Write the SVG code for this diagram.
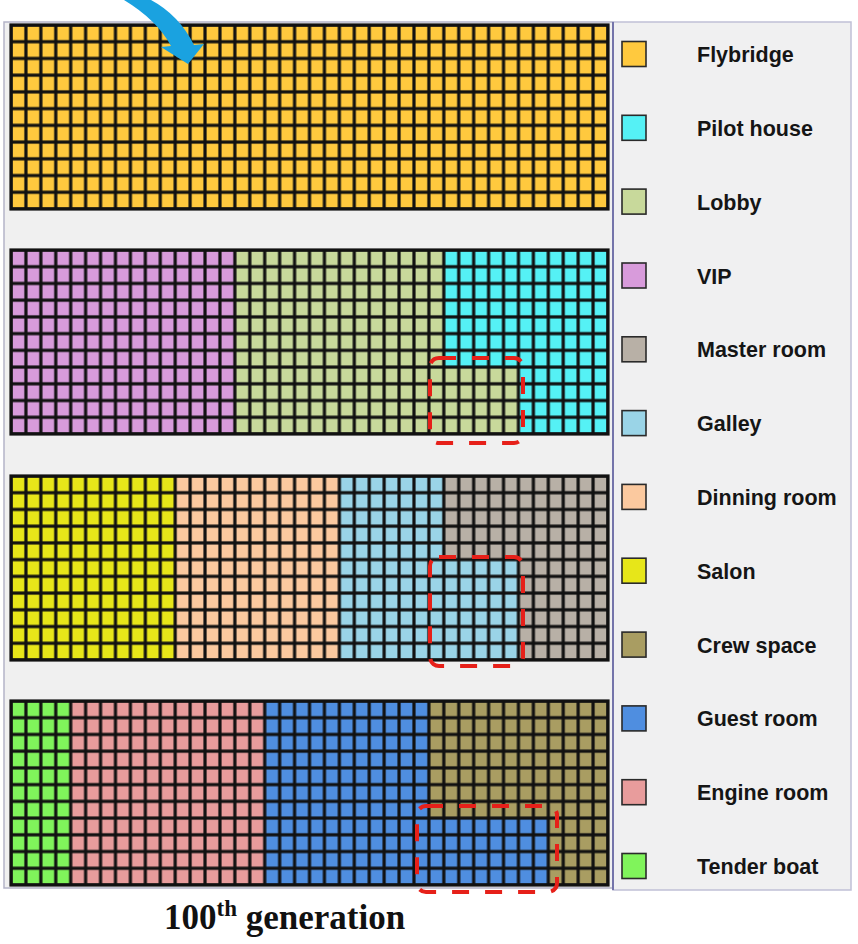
<svg xmlns="http://www.w3.org/2000/svg" width="858" height="944" viewBox="0 0 858 944">
<style>
.lbl{font-family:"Liberation Sans",Arial,sans-serif;font-weight:bold;font-size:21.5px;fill:#151515}
.sw{stroke:#2a2a2a;stroke-width:1.6}
.dash{fill:none;stroke:#e62019;stroke-width:4;stroke-dasharray:17 16}
.frame{fill:none;stroke:#111;stroke-width:3.2}
.title{font-family:"Liberation Serif","Times New Roman",serif;font-weight:bold;fill:#111}
</style>
<defs>
<pattern id="grid" patternUnits="userSpaceOnUse" width="14.925" height="16.727">
<rect x="0" y="0" width="1.6" height="16.727" fill="#111"/>
<rect x="13.325" y="0" width="1.6" height="16.727" fill="#111"/>
<rect x="0" y="0" width="14.925" height="1.6" fill="#111"/>
<rect x="0" y="15.127" width="14.925" height="1.6" fill="#111"/>
</pattern>
</defs>
<rect x="0" y="0" width="858" height="944" fill="#ffffff"/>
<!-- panels -->
<rect x="4" y="22" width="609" height="866" fill="#f0f0f0" stroke="#b4b4c8" stroke-width="1.5"/>
<rect x="613" y="22" width="238" height="868" fill="#f0f0f1" stroke="#c0c0d6" stroke-width="1.5"/>
<line x1="613" y1="22" x2="613" y2="890" stroke="#7474aa" stroke-width="2"/>

<!-- block 1 -->
<g id="floor1" transform="translate(11,25)">
<rect x="0" y="0" width="597" height="184" fill="#ffc93e"/>
<rect x="0" y="0" width="597" height="184" fill="url(#grid)"/>
<rect class="frame" x="0" y="0" width="597" height="184"/>
</g>
<!-- block 2 -->
<g id="floor2" transform="translate(11,250)">
<rect x="0" y="0" width="223.875" height="184" fill="#d89bdb"/>
<rect x="223.875" y="0" width="208.95" height="184" fill="#c8d99b"/>
<rect x="432.825" y="0" width="164.175" height="184" fill="#55f1f5"/>
<rect x="432.825" y="117.09" width="74.625" height="66.91" fill="#c8d99b"/>
<rect x="0" y="0" width="597" height="184" fill="url(#grid)"/>
<rect class="frame" x="0" y="0" width="597" height="184"/>
</g>
<!-- block 3 -->
<g id="floor3" transform="translate(11,476)">
<rect x="0" y="0" width="164.175" height="184" fill="#e7e619"/>
<rect x="164.175" y="0" width="164.175" height="184" fill="#fbc99f"/>
<rect x="328.35" y="0" width="104.475" height="184" fill="#9ad4e7"/>
<rect x="432.825" y="0" width="164.175" height="184" fill="#b8b0a6"/>
<rect x="432.825" y="83.64" width="74.625" height="100.36" fill="#9ad4e7"/>
<rect x="0" y="0" width="597" height="184" fill="url(#grid)"/>
<rect class="frame" x="0" y="0" width="597" height="184"/>
</g>
<!-- block 4 -->
<g id="floor4" transform="translate(11,701)">
<rect x="0" y="0" width="59.7" height="184" fill="#80f45b"/>
<rect x="59.7" y="0" width="194.025" height="184" fill="#e89c9c"/>
<rect x="253.725" y="0" width="164.175" height="184" fill="#4f8ee0"/>
<rect x="417.9" y="0" width="179.1" height="184" fill="#a99d62"/>
<rect x="417.9" y="117.09" width="119.4" height="66.91" fill="#4f8ee0"/>
<rect x="0" y="0" width="597" height="184" fill="url(#grid)"/>
<rect class="frame" x="0" y="0" width="597" height="184"/>
</g>

<!-- dashed highlight boxes -->
<g id="highlights">
<rect class="dash" x="430" y="358" width="93" height="85" rx="9"/>
<rect class="dash" x="430" y="557" width="93" height="109" rx="9"/>
<rect class="dash" x="417" y="806" width="140" height="86" rx="9"/>
</g>

<!-- blue arrow -->
<g id="arrow">
<path d="M124 0 L151 0 Q179 15 194 45 L204 44 L188 64 L161 47 L171 46 Q157 20 124 0 Z" fill="#1aa2e0"/>
</g>

<!-- legend -->
<g id="legend">
<g id="lg-flybridge"><rect class="sw" x="622" y="41.5" width="24" height="25" fill="#ffc93e"/><text class="lbl" x="697" y="62">Flybridge</text></g>
<g id="lg-pilot"><rect class="sw" x="622" y="115.3" width="24" height="25" fill="#55f1f5"/><text class="lbl" x="697" y="135.8">Pilot house</text></g>
<g id="lg-lobby"><rect class="sw" x="622" y="189.1" width="24" height="25" fill="#c8d99b"/><text class="lbl" x="697" y="209.6">Lobby</text></g>
<g id="lg-vip"><rect class="sw" x="622" y="263" width="24" height="25" fill="#d89bdb"/><text class="lbl" x="697" y="283.5">VIP</text></g>
<g id="lg-master"><rect class="sw" x="622" y="336.8" width="24" height="25" fill="#b8b0a6"/><text class="lbl" x="697" y="357.3">Master room</text></g>
<g id="lg-galley"><rect class="sw" x="622" y="410.6" width="24" height="25" fill="#9ad4e7"/><text class="lbl" x="697" y="431.1">Galley</text></g>
<g id="lg-dinning"><rect class="sw" x="622" y="484.4" width="24" height="25" fill="#fbc99f"/><text class="lbl" x="697" y="504.9">Dinning room</text></g>
<g id="lg-salon"><rect class="sw" x="622" y="558.2" width="24" height="25" fill="#e7e619"/><text class="lbl" x="697" y="578.7">Salon</text></g>
<g id="lg-crew"><rect class="sw" x="622" y="632.1" width="24" height="25" fill="#a99d62"/><text class="lbl" x="697" y="652.6">Crew space</text></g>
<g id="lg-guest"><rect class="sw" x="622" y="705.9" width="24" height="25" fill="#4f8ee0"/><text class="lbl" x="697" y="726.4">Guest room</text></g>
<g id="lg-engine"><rect class="sw" x="622" y="779.7" width="24" height="25" fill="#e89c9c"/><text class="lbl" x="697" y="800.2">Engine room</text></g>
<g id="lg-tender"><rect class="sw" x="622" y="853.5" width="24" height="25" fill="#80f45b"/><text class="lbl" x="697" y="874">Tender boat</text></g>
</g>

<!-- caption -->
<text class="title" x="164" y="929" font-size="35">100<tspan font-size="23" dy="-13">th</tspan><tspan dy="13"> generation</tspan></text>
</svg>
